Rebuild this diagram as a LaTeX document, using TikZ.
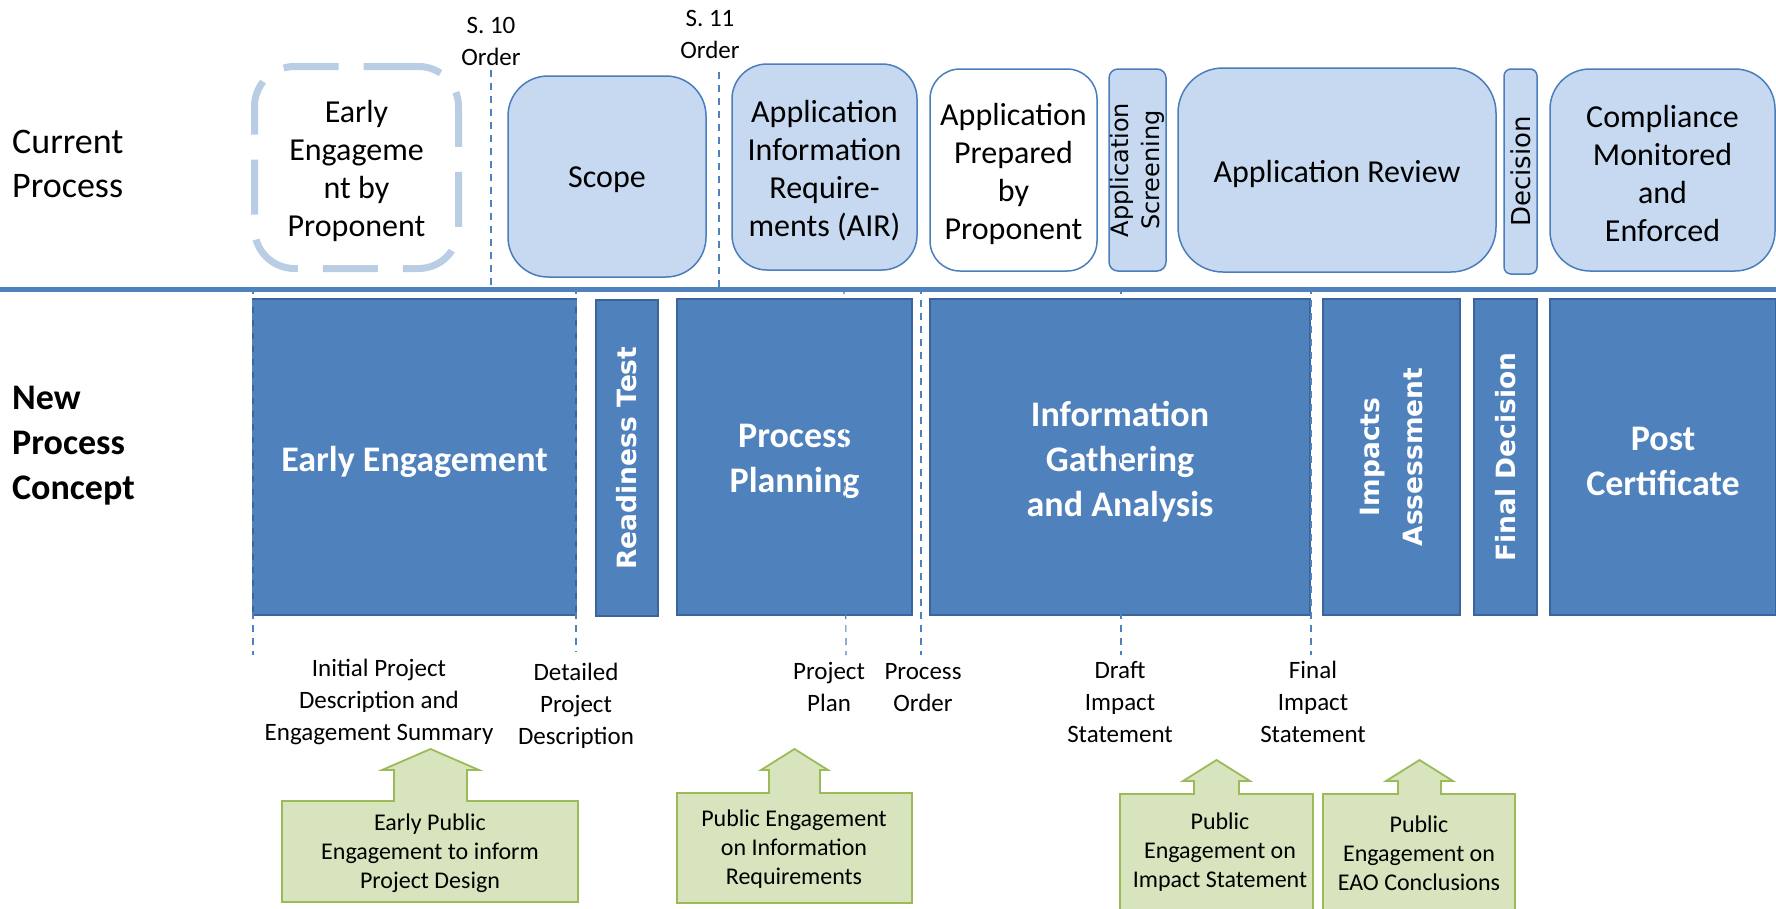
\documentclass[tikz,border=0pt]{standalone}
\usepackage{fontspec}
\setmainfont{Carlito}
\newfontfamily\vfont{DejaVu Sans}
\usepackage{tikz}

\definecolor{curfill}{HTML}{C6D9F1}
\definecolor{curline}{HTML}{4A7EBB}
\definecolor{earlyline}{HTML}{B9CDE5}
\definecolor{newfill}{HTML}{4F81BD}
\definecolor{newline}{HTML}{3A659A}
\definecolor{pubfill}{HTML}{D7E4BD}
\definecolor{publine}{HTML}{9BBB59}

\tikzset{
  curbox/.style={draw=curline, fill=curfill, line width=1.5pt, inner sep=0pt},
  curtext/.style={align=center, inner sep=0pt, yshift=-3.5pt, font=\fontsize{32}{38}\selectfont},
  newbox/.style={draw=newline, fill=newfill, line width=1.5pt, inner sep=0pt, minimum height=316pt},
  newtext/.style={align=center, inner sep=0pt, yshift=-4.5pt, text=white, font=\bfseries\fontsize{36}{45}\selectfont},
  vtext/.style={rotate=90, align=center, inner sep=0pt},
  guide/.style={draw=newfill, line width=1.2pt, dash pattern=on 7pt off 6pt},
  outlabel/.style={align=center, inner sep=0pt, font=\fontsize{25}{32}\selectfont},
  pubarrow/.style={draw=publine, fill=pubfill, line width=1.8pt},
  pubtext/.style={align=center, inner sep=0pt, font=\fontsize{24}{29}\selectfont},
}

\begin{document}
\begin{tikzpicture}[x=1pt, y=-1pt]
\useasboundingbox (0,0) rectangle (1776,908);

% current process
\node[anchor=west, align=left, inner sep=0pt, font=\fontsize{36}{44}\selectfont] (curlbl) at (12,164) {Current\\Process};
\draw[guide] (491,70) -- (491,288);
\draw[guide] (719,72) -- (719,288);
\node[outlabel] (s10) at (491,41) {S. 10\\Order};
\node[outlabel] (s11) at (710,34) {S. 11\\Order};
\node[draw=earlyline, line width=7pt, dash pattern=on 55pt off 25pt, rounded corners=40pt, minimum width=204pt, minimum height=202pt] (early) at (356.5,167.5) {};
\node[curtext] (earlytxt) at (early) {Early\\Engageme\\nt by\\Proponent};
\node[curbox, rounded corners=40pt, minimum width=198pt, minimum height=201pt] (scope) at (607,176.5) {};
\node[curtext] (scopetxt) at (scope) {Scope};
\node[curbox, rounded corners=35pt, minimum width=185pt, minimum height=206pt] (air) at (824.5,167) {};
\node[curtext] (airtxt) at (air) {Application\\Information\\Require-\\ments (AIR)};
\node[curbox, fill=white, rounded corners=30pt, minimum width=167pt, minimum height=202pt] (prep) at (1013.5,170) {};
\node[curtext] (preptxt) at (prep) {Application\\Prepared\\by\\Proponent};
\node[curbox, rounded corners=9pt, minimum width=57pt, minimum height=202pt] (screen) at (1137.5,170) {};
\node[vtext, font=\vfont\fontsize{24}{31}\selectfont] (screentxt) at (screen) {Application\\Screening};
\node[curbox, rounded corners=45pt, minimum width=318pt, minimum height=204pt] (review) at (1337,170) {};
\node[curtext] (reviewtxt) at (review) {Application Review};
\node[curbox, rounded corners=7pt, minimum width=33pt, minimum height=205pt] (decide) at (1520.5,171.5) {};
\node[vtext, font=\vfont\fontsize{26}{31}\selectfont] (decidetxt) at (decide) {Decision};
\node[curbox, rounded corners=40pt, minimum width=225pt, minimum height=202pt] (comply) at (1662.5,170) {};
\node[curtext] (complytxt) at (comply) {Compliance\\Monitored\\and\\Enforced};

\draw[line width=5pt, newfill] (0,289.5) -- (1776,289.5);

% new process concept
\node[anchor=west, align=left, inner sep=0pt, font=\bfseries\fontsize{36}{45}\selectfont] (newlbl) at (12,446) {New\\Process\\Concept};
\node[newbox, minimum width=323pt] (engage) at (414.5,457) {};
\node[newtext] (engagetxt) at (engage) {Early Engagement};
\node[newbox, minimum width=62pt] (ready) at (627,458) {};
\node[vtext, text=white, font=\vfont\bfseries\fontsize{26.5}{30}\selectfont] (readytxt) at (ready) {Readiness Test};
\node[newbox, minimum width=235pt] (plan) at (794.5,457) {};
\node[newtext] (plantxt) at (plan) {Process\\Planning};
\node[newbox, minimum width=380pt] (gather) at (1120,457) {};
\node[newtext] (gathertxt) at (gather) {Information\\Gathering\\and Analysis};
\node[newbox, minimum width=137pt] (impact) at (1391.5,457) {};
\node[vtext, text=white, font=\vfont\bfseries\fontsize{26.5}{43}\selectfont] (impacttxt) at (impact) {Impacts\\Assessment};
\node[newbox, minimum width=63pt] (final) at (1505.5,457) {};
\node[vtext, text=white, font=\vfont\bfseries\fontsize{26.5}{30}\selectfont] (finaltxt) at (final) {Final Decision};
\node[newbox, minimum width=226pt] (post) at (1663,457) {};
\node[newtext] (posttxt) at (post) {Post\\Certificate};

\draw[guide] (253,287) -- (253,655);
\draw[guide] (576,287) -- (576,652);
\draw[guide] (844,287) -- (846,655);
\draw[guide] (921,287) -- (921,655);
\draw[guide] (1121,287) -- (1121,655);
\draw[guide] (1311,287) -- (1311,655);

\node[outlabel] (initdesc) at (379,702) {Initial Project\\Description and\\Engagement Summary};
\node[outlabel] (detdesc) at (576,706) {Detailed\\Project\\Description};
\node[outlabel] (projplan) at (829,687) {Project\\Plan};
\node[outlabel] (procorder) at (923,688) {Process\\Order};
\node[outlabel] (draftis) at (1120,702) {Draft\\Impact\\Statement};
\node[outlabel] (finalis) at (1313,702) {Final\\Impact\\Statement};

% public engagement
\draw[pubarrow] (282,902) -- (282,801) -- (394,801) -- (394,770) -- (382,770) -- (430.5,749) -- (479,770) -- (467,770) -- (467,801) -- (578,801) -- (578,902) -- cycle;
\node[pubtext] (pub1) at (430,853) {Early Public\\Engagement to inform\\Project Design};
\draw[pubarrow] (677,903) -- (677,793) -- (769,793) -- (769,770) -- (761,770) -- (794.5,749) -- (828,770) -- (820,770) -- (820,793) -- (912,793) -- (912,903) -- cycle;
\node[pubtext] (pub2) at (794,849.5) {Public Engagement\\on Information\\Requirements};
\draw[pubarrow] (1120,915) -- (1120,794) -- (1194,794) -- (1194,781) -- (1183,781) -- (1216.5,760) -- (1250,781) -- (1239,781) -- (1239,794) -- (1313,794) -- (1313,915) -- cycle;
\node[pubtext] (pub3) at (1220,852) {Public\\Engagement on\\Impact Statement};
\draw[pubarrow] (1323,915) -- (1323,794) -- (1398,794) -- (1398,781) -- (1386,781) -- (1419.5,760) -- (1453,781) -- (1441,781) -- (1441,794) -- (1515,794) -- (1515,915) -- cycle;
\node[pubtext] (pub4) at (1419,853) {Public\\Engagement on\\EAO Conclusions};
\end{tikzpicture}
\end{document}
